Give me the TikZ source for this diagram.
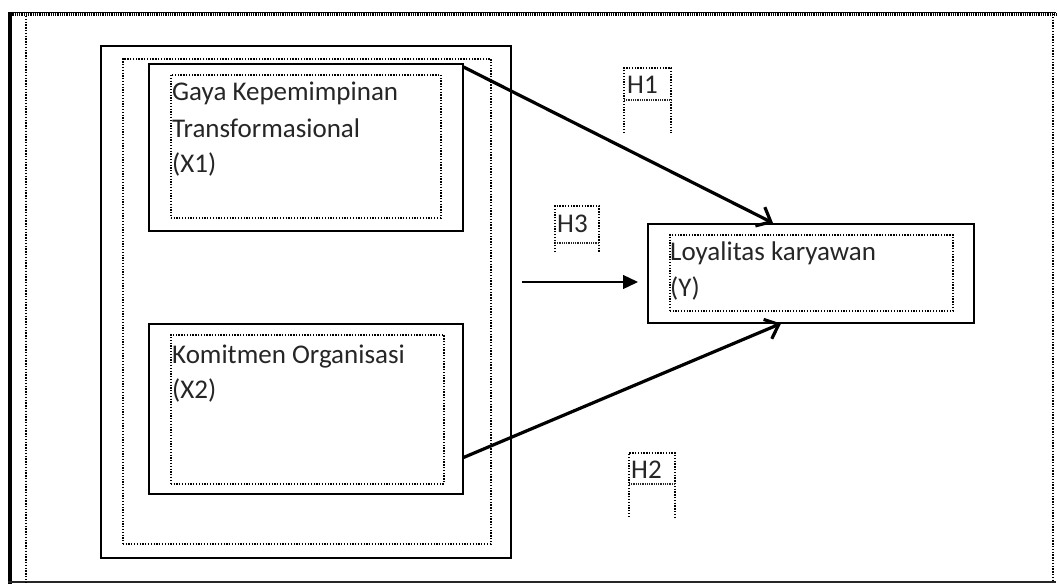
\documentclass[tikz,border=0pt]{standalone}
\usepackage{fontspec}
\setmainfont{Carlito}
\usetikzlibrary{arrows.meta,calc}
\begin{document}
\begin{tikzpicture}[x=1pt,y=-1pt,
  solidbox/.style={draw=black,line width=1.5pt,inner sep=0pt,anchor=north west},
  dotbox/.style={draw=black,line width=1.5pt,dash pattern=on 1.3pt off 1.5pt,inner sep=0pt,anchor=north west},
  dotline/.style={draw=black,line width=1.5pt,dash pattern=on 1.3pt off 1.5pt},
  hatch/.style={draw=black!85,line width=2.5pt,dash pattern=on 1pt off 0.8pt},
  lbl/.style={inner sep=0pt,anchor=base west,text=black!85,font=\fontsize{27}{32}\selectfont},
  thickarrow/.style={line width=3.2pt,-{Straight Barb[length=12pt,width=21pt,line width=3.2pt]}},
  thinarrow/.style={line width=1.3pt,-{Triangle[length=15pt,width=14pt]}}]
\useasboundingbox (0,0) rectangle (1058,584);
\fill[white] (0,0) rectangle (1058,584);
% outer frame
\draw[line width=4pt] (10,12) -- (10,584);
\draw[line width=1.6pt,black!85] (8,582) -- (1056,582);
\draw[line width=1.5pt,black] (8,12.5) -- (1056,12.5);
\draw[hatch,black] (8,14.5) -- (1056,14.5);
\draw[dotline] (26,16) -- (26,582);
\draw[dotline] (1053,14) -- (1053,582);
% big grouping boxes
\node[solidbox,minimum width=410,minimum height=512] (grp) at (100,45) {};
\node[dotbox,minimum width=368,minimum height=485] (grpin) at (122,58) {};
% X1
\node[solidbox,minimum width=314,minimum height=167] (x1) at (148,63) {};
\node[dotbox,minimum width=270,minimum height=143] (x1in) at (170,74) {};
\node[lbl] (x1a) at (172,100) {Gaya Kepemimpinan};
\node[lbl] (x1b) at (172,137) {Transformasional};
\node[lbl] (x1c) at (172,172) {(X1)};
% X2
\node[solidbox,minimum width=314,minimum height=170] (x2) at (148,323) {};
\node[dotbox,minimum width=273,minimum height=149] (x2in) at (170,334) {};
\node[lbl] (x2a) at (172,363) {Komitmen Organisasi};
\node[lbl] (x2b) at (172,398) {(X2)};
% Y
\node[solidbox,minimum width=326,minimum height=99] (y) at (647,223) {};
\node[dotbox,minimum width=283,minimum height=76] (yin) at (669,234) {};
\node[lbl] (ya) at (670,260) {Loyalitas karyawan};
\node[lbl] (yb) at (670,296) {(Y)};
% hypothesis labels
\draw[dotline] (624,133) -- (624,68) -- (671,68) -- (671,133);
\draw[hatch] (624,100) -- (671,100);
\node[lbl] (h1) at (627,93) {H1};
\draw[dotline] (555,252) -- (555,206) -- (599,206) -- (599,252);
\draw[hatch] (555,243) -- (599,243);
\node[lbl] (h3) at (557,232) {H3};
\draw[dotline] (629,517) -- (629,453) -- (675,453) -- (675,517);
\draw[hatch] (629,484) -- (675,484);
\node[lbl] (h2) at (631,478) {H2};
% arrows
\draw[thickarrow] ([yshift=-4]x1.north east) -- ([xshift=126]y.north west);
\draw[thickarrow] ([yshift=37]x2.south east) -- ([xshift=134]y.south west);
\coordinate (h3start) at (522,282);
\coordinate (h3end) at ([xshift=-9,yshift=-10]y.west);
\draw[thinarrow] (h3start) -- (h3start -| h3end);
\end{tikzpicture}
\end{document}
